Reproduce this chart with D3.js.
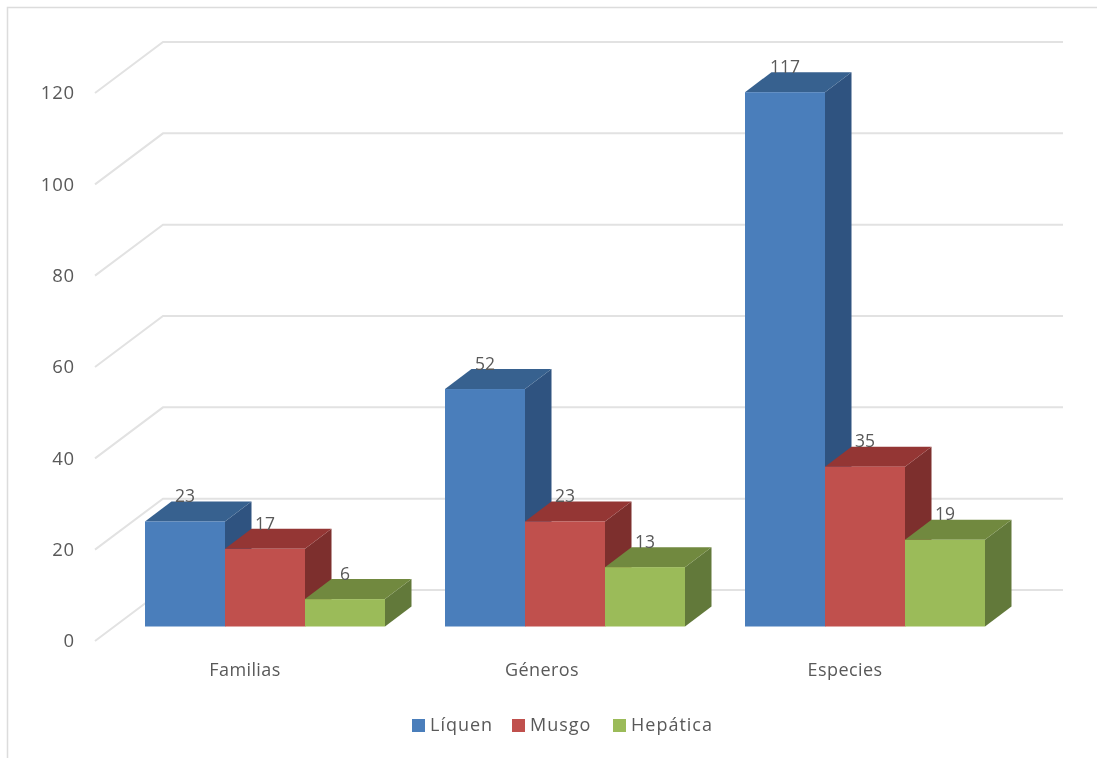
<!DOCTYPE html>
<html><head><meta charset="utf-8">
<script src="https://cdn.jsdelivr.net/npm/d3@7/dist/d3.min.js"></script>
<style>html,body{margin:0;background:#fff}svg{display:block;filter:blur(0.45px)}text{font-family:"Open Sans",sans-serif;fill:#595959}</style>
</head><body><div id="c"></div>
<script>
const categories = ["Familias","Géneros","Especies"];
const seriesNames = ["Líquen","Musgo","Hepática"];
const liquen = [23,52,117];
const musgo = [17,23,35];
const hepatica = [6,13,19];
const yTicks = [0,20,40,60,80,100,120];
const seriesValues = [liquen,musgo,hepatica];
const colors = [
 {front:"#4a7ebb",top:"#37618f",side:"#2f5380"},
 {front:"#c0504d",top:"#943634",side:"#7d2f2d"},
 {front:"#9bbb59",top:"#71893f",side:"#62793a"}];

const W=1097,H=758;
const svg=d3.select("#c").append("svg").attr("width",W).attr("height",H);
svg.append("path").attr("d","M7.5,758V7.5H1097").attr("fill","none").attr("stroke","#dcdcdc").attr("stroke-width",1.5);

const wallDx=68,wallDy=51;
const y=d3.scaleLinear().domain([0,120]).range([641,93]);
const x0=d3.scaleBand().domain(categories).range([95,995]);
const x1=d3.scaleBand().domain(seriesNames).range([50,290]);
const barShift=14.5, depthX=26.5, depthY=20;

// walls
const grid=svg.append("g").attr("fill","none").attr("stroke","#e2e2e2").attr("stroke-width",2);
yTicks.forEach(t=>{
  const yy=y(t);
  grid.append("path").attr("d",`M${x0.range()[0]},${yy}L${x0.range()[0]+wallDx},${yy-wallDy}H${x0.range()[1]+wallDx}`);
});
// y labels
svg.append("g").selectAll("text").data(yTicks).join("text")
  .attr("x",75).attr("y",t=>y(t)+1.5).attr("text-anchor","end").attr("dominant-baseline","middle")
  .attr("font-size",18.5).attr("letter-spacing",0.8).text(d=>d);
// x labels
svg.append("g").selectAll("text").data(categories).join("text")
  .attr("x",(d,i)=>x0(d)+x0.bandwidth()/2-(i==1?3:0)).attr("y",671).attr("text-anchor","middle").attr("dominant-baseline","middle")
  .attr("font-size",18).attr("letter-spacing",0.4).text(d=>d);

// bars
const labels=[];
categories.forEach((cat,ci)=>{
  const g=svg.append("g");
  seriesNames.forEach((s,si)=>{
    const v=seriesValues[si][ci], c=colors[si];
    const l=x0(cat)+x1(s), r=l+x1.bandwidth();
    const t=y(v)-barShift, b=y(0)-barShift;
    g.append("path").attr("fill",c.side).attr("d",`M${r},${t}L${r+depthX},${t-depthY}V${b-depthY}L${r},${b}Z`);
    g.append("path").attr("fill",c.top).attr("d",`M${l},${t}L${l+depthX},${t-depthY}H${r+depthX}L${r},${t}Z`);
    g.append("rect").attr("fill",c.front).attr("x",l).attr("y",t).attr("width",r-l).attr("height",b-t);
    labels.push({v,x:(l+r)/2,y:t-24});
  });
});
svg.append("g").selectAll("text").data(labels).join("text")
  .attr("x",d=>d.x).attr("y",d=>d.y).attr("text-anchor","middle").attr("dominant-baseline","middle")
  .attr("font-size",17.5).text(d=>d.v);

// legend
const lx=d3.scaleOrdinal().domain(seriesNames).range([412,512,613]);
const lg=svg.append("g").selectAll("g").data(seriesNames).join("g").attr("transform",d=>`translate(${lx(d)},719)`);
lg.append("rect").attr("width",13).attr("height",13).attr("fill",(d,i)=>colors[i].front);
lg.append("text").attr("x",18).attr("y",7).attr("dominant-baseline","middle").attr("font-size",18).attr("letter-spacing",1).text(d=>d);
</script></body></html>
